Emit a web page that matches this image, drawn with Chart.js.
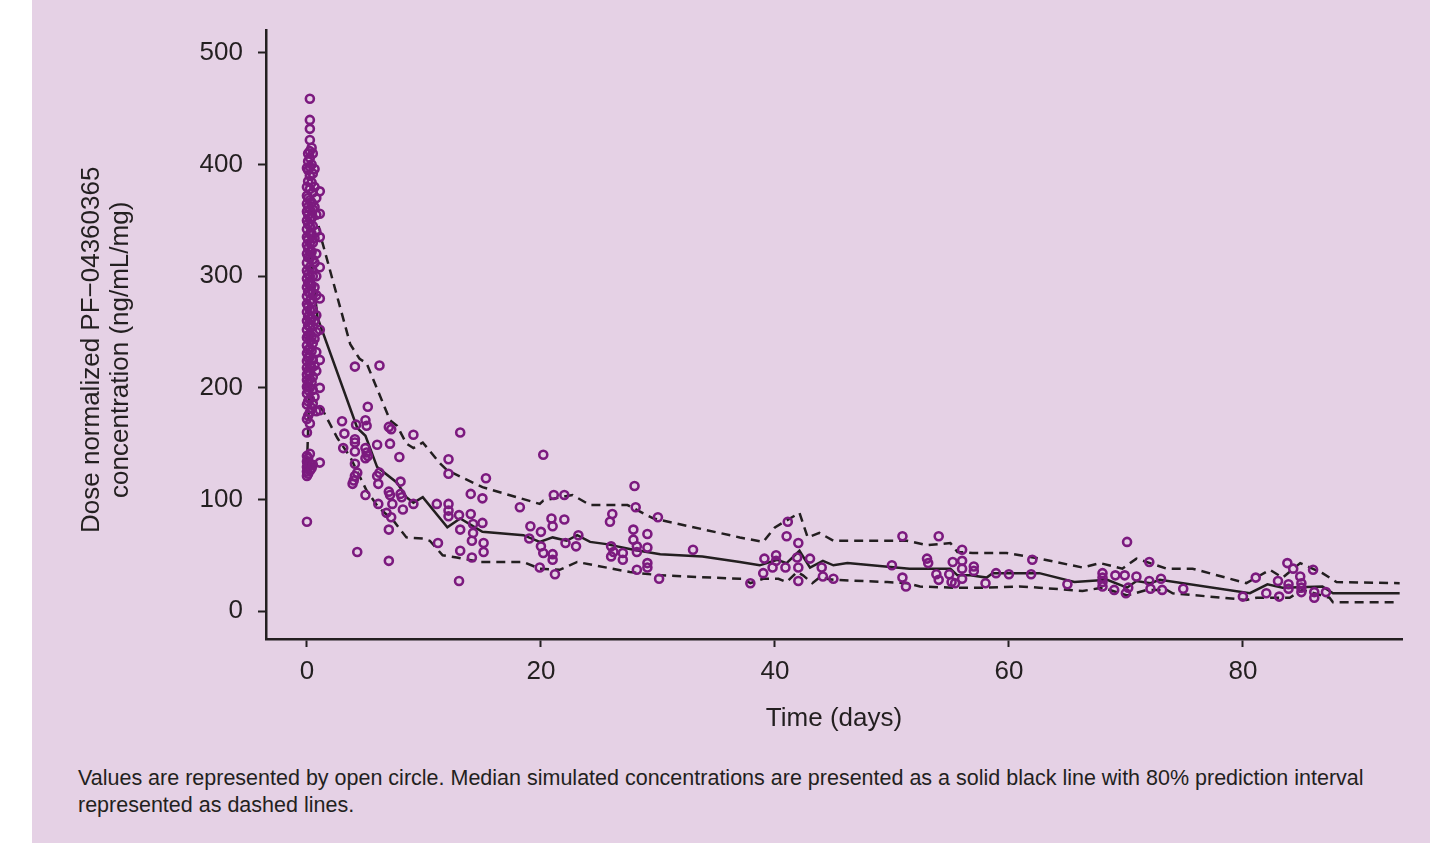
<!DOCTYPE html>
<html>
<head>
<meta charset="utf-8">
<script src="https://cdn.jsdelivr.net/npm/chart.js@4.4.0/dist/chart.umd.min.js"></script>
<style>
  html, body { margin: 0; padding: 0; background: #fff; }
  #panel { position: absolute; left: 32px; top: 0; width: 1398px; height: 843px; background: #e5d1e5; }
  #chartBox { position: absolute; left: 0; top: 0; width: 1398px; height: 760px; }
  #caption { position: absolute; left: 46px; top: 765px; width: 1350px; font: 21.5px "Liberation Sans", Arial, sans-serif; line-height: 27px; color: #231f20; }
</style>
</head>
<body>
<div id="panel">
  <div id="chartBox"><canvas id="pkChart"></canvas></div>
  <div id="caption">Values are represented by open circle. Median simulated concentrations are presented as a solid black line with 80% prediction interval<br>represented as dashed lines.</div>
</div>
<script>
let ctx = document.querySelector("#pkChart");

const INK = "#231f20";
const PURPLE = "#7c1a7f";
const FONT = "'Liberation Sans', Arial, sans-serif";

const xTickValues = [0, 20, 40, 60, 80];
const yTickValues = [0, 100, 200, 300, 400, 500];
const yTitleLines = ["Dose normalized PF\u221204360365", "concentration (ng/mL/mg)"];

// observed values around the dose (dense column near day 0)
const peakDays = [0, 0.1, 0.25, 0.4, 0.5, 0.65, 0.8, 1.1];
const peakConc = [
  [80, 121, 125, 129, 134, 139, 160, 172, 185, 195, 201, 207, 212, 218, 224, 231, 238, 245, 252, 260, 268, 275, 282, 290, 298, 305, 312, 320, 328, 335, 342, 350, 358, 365, 372, 380, 397],
  [123, 131, 137, 175, 188, 198, 204, 215, 227, 234, 247, 256, 264, 273, 286, 294, 302, 317, 325, 333, 347, 355, 362, 370, 385, 395, 403, 410],
  [126, 132, 141, 168, 178, 190, 200, 208, 214, 221, 228, 235, 242, 248, 255, 262, 270, 278, 285, 293, 300, 308, 316, 322, 330, 338, 345, 352, 360, 368, 378, 390, 398, 406, 412, 422, 432, 440, 459],
  [128, 182, 205, 218, 233, 246, 262, 276, 292, 306, 322, 338, 352, 366, 384, 400, 415],
  [131, 186, 198, 210, 225, 240, 255, 270, 285, 300, 315, 330, 345, 360, 375, 392, 410],
  [192, 220, 244, 260, 290, 312, 334, 362, 380, 396],
  [179, 215, 232, 250, 265, 283, 300, 320, 340, 355, 370],
  [133, 180, 200, 225, 252, 280, 308, 335, 356, 376],
];

// observed values, days 3-16
const earlyDays = [4.1, 6.2, 5.2, 3.0, 5.0, 5.1, 4.2, 3.2, 7.0, 7.2, 9.1, 4.1, 4.1, 6.0, 7.1, 3.1, 4.1, 5.0, 5.1, 5.2,
  5.0, 7.9, 12.1, 12.1, 4.1, 4.3, 4.1, 4.0, 3.9, 6.2, 6.0, 6.1, 8.0, 7.0, 7.1, 8.0, 8.1, 7.3, 8.2, 9.1,
  5.0, 6.1, 6.8, 7.2, 7.0, 11.1, 12.1, 12.1, 12.1, 11.2, 4.3, 7.0, 13.1, 13.0, 13.1, 13.1, 13.0,
  15.3, 14.0, 15.0, 14.0, 14.2, 15.0, 14.2, 14.1, 15.1, 15.1, 14.1];
const earlyConc = [219, 220, 183, 170, 171, 166, 167, 159, 165, 163, 158, 154, 151, 149, 150, 146, 143, 146, 142, 139,
  137, 138, 136, 123, 132, 124, 121, 117, 114, 124, 121, 114, 116, 107, 104, 105, 102, 96, 91, 96,
  104, 96, 88, 84, 73, 96, 96, 90, 85, 61, 53, 45, 160, 86, 73, 54, 27,
  119, 105, 101, 87, 78, 79, 70, 63, 61, 53, 48];

// observed values, days 18-33
const midDays = [18.2, 20.2, 21.1, 22.0, 19.1, 19.0, 20.0, 20.9, 21.0, 22.0, 20.0, 20.2, 21.0, 21.0, 19.9, 21.2, 22.1, 23.0, 23.2,
  28.0, 26.1, 25.9, 28.1, 30.0, 27.9, 27.9, 29.1, 26.0, 26.2, 26.0, 27.0, 27.0, 28.2, 28.2, 29.1, 28.2, 29.1, 29.1, 30.1, 33.0];
const midConc = [93, 140, 104, 104, 76, 65, 71, 83, 76, 82, 58, 52, 51, 46, 39, 33, 61, 58, 68,
  112, 87, 80, 93, 84, 73, 64, 69, 58, 53, 49, 52, 46, 58, 53, 57, 37, 43, 39, 29, 55];

// observed values, days 37-61
const lateDays = [41.1, 41.0, 42.0, 39.1, 40.1, 40.1, 41.9, 43.0, 39.8, 40.9, 42.0, 39.0, 44.0, 44.1, 45.0, 37.9, 42.0,
  50.0, 50.9, 50.9, 51.2, 54.0, 53.0, 53.1, 55.2, 56.0, 56.0, 56.0, 57.0, 57.0, 53.8, 54.0, 54.9, 55.1, 55.4, 56.0,
  58.0, 58.9, 60.0];
const lateConc = [80, 67, 61, 47, 50, 45, 48, 47, 39, 39, 39, 34, 39, 31, 29, 25, 27,
  41, 67, 30, 22, 67, 47, 43, 44, 55, 45, 38, 40, 36, 33, 28, 33, 26, 25, 29,
  25, 34, 33];

// observed values, days 62-88
const tailDays = [62.0, 61.9, 65.0, 68.0, 68.0, 68.0, 68.0, 69.1, 69.9, 69.0, 70.2, 70.0, 70.1, 70.9, 72.0, 72.0, 72.1, 73.0, 73.1, 74.9,
  80.0, 81.1, 82.0, 83.0, 83.1, 83.8, 84.3, 83.9, 83.9, 84.9, 85.0, 85.0, 85.0, 86.0, 86.1, 86.1, 87.1];
const tailConc = [46, 33, 24, 34, 30, 26, 22, 32, 32, 19, 21, 16, 62, 31, 44, 27, 20, 29, 19, 20,
  13, 30, 16, 27, 13, 43, 38, 24, 20, 31, 25, 21, 17, 37, 17, 12, 17];

// simulated median
const medianDays = [0.3, 0.9, 4.3, 5.0, 6.0, 7.7, 8.5, 9.1, 9.9, 12.0, 13.1, 15.0, 18.5, 19.9, 21.0, 22.2, 23.1, 24.2, 25.6, 27.9,
  30.2, 33.8, 37.0, 38.7, 40.2, 41.0, 42.1, 43.0, 44.1, 45.0, 46.2, 51.5, 55.0, 55.6, 56.7, 58.1, 58.6, 60.9, 62.6, 65.6,
  68.4, 70.1, 70.9, 72.1, 72.9, 80.6, 82.1, 83.4, 86.8, 87.7, 93.4];
const medianConc = [320, 263, 164, 157, 129, 115, 102, 97, 102, 75, 83, 71, 68, 62, 66, 63, 68, 62, 60, 55,
  51, 49, 44, 41, 46, 43, 54, 39, 45, 41, 43, 38, 38, 32, 32, 30, 34, 34, 34, 26,
  28, 21, 27, 25, 28, 16, 24, 21, 22, 16, 16];

// 90th percentile (upper dashed)
const upperDays = [1.0, 1.3, 3.7, 4.5, 5.1, 7.1, 7.7, 8.5, 9.1, 9.9, 11.4, 12.0, 15.0, 19.9, 20.2, 22.7, 24.2, 27.4, 29.6, 37.0,
  39.0, 40.0, 42.1, 42.8, 43.8, 45.0, 51.3, 53.0, 55.0, 55.6, 56.9, 59.8, 62.6, 66.3, 67.8, 69.7, 70.9, 73.5, 75.7, 80.3,
  82.3, 83.4, 84.9, 86.8, 88.0, 93.4];
const upperConc = [345, 331, 239, 226, 222, 171, 166, 150, 146, 151, 132, 126, 111, 96, 99, 104, 95, 95, 83, 66,
  62, 75, 88, 66, 70, 63, 63, 59, 61, 53, 52, 52, 47, 39, 43, 38, 47, 38, 38, 25,
  37, 30, 43, 34, 26, 25];

// 10th percentile (lower dashed)
const lowerDays = [0, 0.2, 1.4, 1.7, 2.6, 3.7, 5.1, 6.1, 7.4, 8.5, 9.9, 10.5, 11.6, 12.8, 14.8, 18.5, 19.9, 21.6, 23.1, 23.6,
  27.6, 30.2, 37.0, 37.3, 37.9, 39.0, 40.3, 41.0, 41.9, 42.4, 43.2, 43.8, 45.0, 49.6, 51.3, 52.4, 55.2, 57.8, 60.9, 62.6,
  66.3, 68.0, 70.1, 71.8, 73.5, 74.0, 80.3, 81.2, 84.0, 85.1, 87.4, 87.7, 93.4];
const lowerConc = [130, 195, 179, 173, 155, 138, 108, 93, 81, 66, 65, 63, 50, 48, 44, 44, 38, 37, 44, 43,
  35, 32, 29, 29, 25, 29, 29, 26, 35, 32, 25, 30, 28, 26, 25, 22, 21, 21, 22, 21,
  18, 21, 14, 19, 19, 16, 10, 12, 12, 19, 12, 8, 8];

function toPoints(days, conc) {
  return days.map((d, i) => ({ x: d, y: conc[i] }));
}

let observed = [];
peakDays.forEach((d, i) => {
  peakConc[i].forEach((c) => observed.push({ x: d, y: c }));
});
observed = observed.concat(
  toPoints(earlyDays, earlyConc),
  toPoints(midDays, midConc),
  toPoints(lateDays, lateConc),
  toPoints(tailDays, tailConc)
);

// y axis title drawn by hand: two rotated lines, sitting a bit below the axis middle
const yTitlePlugin = {
  id: "yTitle",
  afterDraw(chart) {
    const area = chart.chartArea;
    const c = chart.ctx;
    c.save();
    c.fillStyle = INK;
    c.font = "26px " + FONT;
    c.textAlign = "center";
    c.textBaseline = "middle";
    c.translate(60, (area.top + area.bottom) / 2 + 15);
    c.rotate(-Math.PI / 2);
    yTitleLines.forEach((line, i) => c.fillText(line, 0, i * 29));
    c.restore();
  },
};

const tickFont = { family: FONT, size: 26 };
const axisGrid = {
  drawOnChartArea: false,
  drawTicks: true,
  tickLength: 8,
  tickWidth: 2,
  tickColor: INK,
};

new Chart(ctx, {
  type: "scatter",
  data: {
    datasets: [
      {
        label: "Observed",
        data: observed,
        pointRadius: 4,
        pointBorderWidth: 2.6,
        pointBorderColor: PURPLE,
        pointBackgroundColor: "rgba(0,0,0,0)",
        order: 0,
      },
      {
        label: "Median",
        data: toPoints(medianDays, medianConc),
        showLine: true,
        borderColor: INK,
        borderWidth: 2.5,
        pointRadius: 0,
        order: 1,
      },
      {
        label: "P90",
        data: toPoints(upperDays, upperConc),
        showLine: true,
        borderColor: INK,
        borderWidth: 2.5,
        borderDash: [9, 6],
        pointRadius: 0,
        order: 2,
      },
      {
        label: "P10",
        data: toPoints(lowerDays, lowerConc),
        showLine: true,
        borderColor: INK,
        borderWidth: 2.5,
        borderDash: [9, 6],
        pointRadius: 0,
        order: 3,
      },
    ],
  },
  options: {
    animation: false,
    responsive: true,
    maintainAspectRatio: false,
    layout: { padding: { top: 28, right: 28, left: 0, bottom: 0 } },
    plugins: {
      legend: { display: false },
      tooltip: { enabled: false },
    },
    scales: {
      x: {
        type: "linear",
        min: -3.5,
        max: 93.6,
        afterBuildTicks: (scale) => {
          scale.ticks = xTickValues.map((v) => ({ value: v }));
        },
        afterFit: (scale) => {
          scale.height = 121;
        },
        border: { display: true, color: INK, width: 2.5 },
        grid: axisGrid,
        ticks: { font: tickFont, color: INK, padding: 9 },
        title: {
          display: true,
          text: "Time (days)",
          font: tickFont,
          color: INK,
          padding: { top: 0, bottom: 26 },
        },
      },
      y: {
        type: "linear",
        min: -25,
        max: 520,
        afterBuildTicks: (scale) => {
          scale.ticks = yTickValues.map((v) => ({ value: v }));
        },
        afterFit: (scale) => {
          scale.width = 234;
        },
        border: { display: true, color: INK, width: 2.5 },
        grid: axisGrid,
        ticks: { font: tickFont, color: INK, padding: 15 },
      },
    },
  },
  plugins: [yTitlePlugin],
});
</script>
</body>
</html>
